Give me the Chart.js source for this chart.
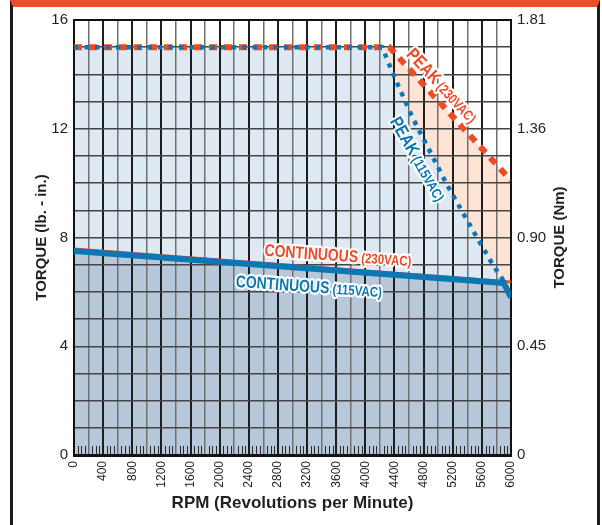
<!DOCTYPE html>
<html>
<head>
<meta charset="utf-8">
<script src="https://cdn.jsdelivr.net/npm/chart.js@4.4.1/dist/chart.umd.min.js"></script>
<style>
html, body { margin: 0; padding: 0; background: #fff; }
#wrap { position: relative; width: 602px; height: 525px; overflow: hidden; }
#frame { position: absolute; left: 10px; top: 0; width: 590px; height: 525px; box-sizing: border-box;
         border-top: 7px solid #ef4e2c; border-left: 3px solid #1b1b1b; border-right: 3px solid #1b1b1b; }
#torque-chart { position: absolute; left: 0; top: 0; }
</style>
</head>
<body>
<div id="wrap">
    <div id="frame"></div>
    <canvas id="torque-chart" width="602" height="525"></canvas>
</div>
<script>
const FONT = "'Liberation Sans', Arial, sans-serif";
const RED = '#ef4a25';
const BLUE = '#0c77b3';
const INK = '#231f20';

// tick labels
const rpmTickLabels = [0, 400, 800, 1200, 1600, 2000, 2400, 2800, 3200, 3600, 4000, 4400, 4800, 5200, 5600, 6000];
const torqueTickLabels = [0, 4, 8, 12, 16];
const nmTickLabels = ['0', '0.45', '0.90', '1.36', '1.81'];

// curves (rpm, lb-in)
const cont115Rpm = [0, 5900, 6000];
const cont115Torque = [7.5, 6.33, 5.8];

const cont230Rpm = [0, 6000];
const cont230Torque = [7.58, 6.36];

const peak115Rpm = [0, 4230, 4400, 4650, 4900, 5130, 5480, 5750, 5900, 6000];
const peak115Torque = [15, 15, 13.9, 12.4, 11.1, 9.9, 8.25, 7.0, 6.4, 5.8];

const peak230Rpm = [0, 4330, 6000];
const peak230Torque = [15, 15, 10.1];

function toPoints(xs, ys) {
    return xs.map((x, i) => ({ x: x, y: ys[i] }));
}

// condensed bold label with a white halo, centred on (cx, cy)
function drawTag(ctx, cx, cy, deg, big, small, color, bigPx, smallPx) {
    ctx.save();
    ctx.translate(cx, cy);
    ctx.rotate(deg * Math.PI / 180);
    ctx.scale(0.82, 1);
    const bigFont = `bold ${bigPx}px ${FONT}`;
    const smallFont = `bold ${smallPx}px ${FONT}`;
    ctx.font = bigFont;
    const w1 = ctx.measureText(big).width;
    ctx.font = smallFont;
    const w2 = ctx.measureText(small).width;
    const gap = 4;
    const x0 = -(w1 + gap + w2) / 2;
    const base = bigPx * 0.36;
    ctx.textBaseline = 'alphabetic';
    ctx.textAlign = 'left';
    ctx.lineJoin = 'round';
    ctx.strokeStyle = '#fff';
    ctx.lineWidth = 4.5;
    ctx.fillStyle = color;
    ctx.font = bigFont;
    ctx.strokeText(big, x0, base);
    ctx.font = smallFont;
    ctx.strokeText(small, x0 + w1 + gap, base);
    ctx.font = bigFont;
    ctx.fillText(big, x0, base);
    ctx.font = smallFont;
    ctx.fillText(small, x0 + w1 + gap, base);
    ctx.restore();
}

const extrasPlugin = {
    id: 'extras',
    afterDraw(chart) {
        const ctx = chart.ctx;
        const x = chart.scales.x;
        const y = chart.scales.y;
        const area = chart.chartArea;

        // small ticks along the bottom, every 50 rpm
        ctx.save();
        ctx.strokeStyle = '#2a2a2a';
        ctx.lineWidth = 1;
        ctx.beginPath();
        for (let r = 50; r < 6000; r += 50) {
            if (r % 200 === 0) continue;
            const px = Math.round(x.getPixelForValue(r)) + 0.5;
            ctx.moveTo(px, area.bottom);
            ctx.lineTo(px, area.bottom - 9);
        }
        ctx.stroke();
        ctx.restore();

        // curve labels
        drawTag(ctx, x.getPixelForValue(3625), y.getPixelForValue(7.36), 4, 'CONTINUOUS', '(230VAC)', RED, 17, 14);
        drawTag(ctx, x.getPixelForValue(3226), y.getPixelForValue(6.22), 4, 'CONTINUOUS', '(115VAC)', BLUE, 17, 14);
        drawTag(ctx, x.getPixelForValue(5060), y.getPixelForValue(13.6), 47, 'PEAK', '(230VAC)', RED, 18, 14);
        drawTag(ctx, x.getPixelForValue(4730), y.getPixelForValue(10.9), 60, 'PEAK', '(115VAC)', BLUE, 18, 14);

        // right axis title, reading upward
        ctx.save();
        ctx.translate(560, (area.top + area.bottom) / 2);
        ctx.rotate(-Math.PI / 2);
        ctx.font = `bold 15px ${FONT}`;
        ctx.fillStyle = INK;
        ctx.textAlign = 'center';
        ctx.textBaseline = 'middle';
        ctx.fillText('TORQUE (Nm)', 0, 0);
        ctx.restore();
    }
};

const canvas = document.getElementById('torque-chart');

const chart = new Chart(canvas, {
    type: 'line',
    data: {
        datasets: [
            {
                label: 'Peak (230VAC)',
                data: toPoints(peak230Rpm, peak230Torque),
                borderColor: RED,
                borderWidth: 6,
                borderDash: [8, 7],
                backgroundColor: '#fde4d4',
                fill: 1,
                pointRadius: 0,
                order: 4
            },
            {
                label: 'Peak (115VAC)',
                data: toPoints(peak115Rpm, peak115Torque),
                borderColor: BLUE,
                borderWidth: 4.5,
                borderDash: [4.5, 6],
                backgroundColor: '#dfe9f3',
                fill: 3,
                pointRadius: 0,
                order: 3
            },
            {
                label: 'Continuous (230VAC)',
                data: toPoints(cont230Rpm, cont230Torque),
                borderColor: RED,
                borderWidth: 3,
                fill: false,
                pointRadius: 0,
                order: 2
            },
            {
                label: 'Continuous (115VAC)',
                data: toPoints(cont115Rpm, cont115Torque),
                borderColor: BLUE,
                borderWidth: 6,
                backgroundColor: '#b6c8d9',
                fill: 'origin',
                pointRadius: 0,
                order: 1
            }
        ]
    },
    options: {
        responsive: false,
        animation: false,
        layout: { padding: { top: 20, left: 0, right: 0, bottom: 0 } },
        plugins: {
            legend: { display: false },
            tooltip: { enabled: false },
            filler: { drawTime: 'beforeDraw' }
        },
        scales: {
            x: {
                type: 'linear',
                min: 0,
                max: 6000,
                afterFit: (scale) => { scale.height = 70; },
                ticks: {
                    stepSize: 200,
                    autoSkip: false,
                    minRotation: 90,
                    maxRotation: 90,
                    padding: 6,
                    color: INK,
                    font: { family: FONT, size: 12 },
                    callback: (v) => rpmTickLabels.includes(v) ? String(v) : ''
                },
                grid: {
                    drawTicks: false,
                    color: (c) => (c.tick && c.tick.value % 400 === 0) ? '#1e1e1e' : '#707070',
                    lineWidth: (c) => (c.tick && c.tick.value % 400 === 0) ? 2 : 1.5
                },
                border: { color: '#111', width: 3 },
                title: {
                    display: true,
                    text: 'RPM (Revolutions per Minute)',
                    color: INK,
                    font: { family: FONT, size: 17, weight: 'bold' },
                    padding: { top: 0, bottom: 11 }
                }
            },
            y: {
                position: 'left',
                min: 0,
                max: 16,
                afterFit: (scale) => { scale.width = 74; },
                ticks: {
                    stepSize: 1,
                    padding: 6,
                    color: INK,
                    font: { family: FONT, size: 15 },
                    callback: (v) => torqueTickLabels.includes(v) ? String(v) : ''
                },
                grid: {
                    drawTicks: false,
                    color: (c) => (c.tick && c.tick.value === 16) ? '#111' : '#454545',
                    lineWidth: (c) => (c.tick && c.tick.value === 16) ? 2 : 1.5
                },
                border: { color: '#111', width: 2 },
                title: {
                    display: true,
                    text: 'TORQUE (lb. - in.)',
                    color: INK,
                    font: { family: FONT, size: 15, weight: 'bold' },
                    padding: { top: 33, bottom: 0 }
                }
            },
            y1: {
                position: 'right',
                min: 0,
                max: 16,
                afterFit: (scale) => { scale.width = 91; },
                ticks: {
                    stepSize: 4,
                    padding: 6,
                    color: INK,
                    font: { family: FONT, size: 15 },
                    callback: (v, i) => nmTickLabels[i]
                },
                grid: { display: false, drawTicks: false },
                border: { color: '#111', width: 2 }
            }
        }
    },
    plugins: [extrasPlugin]
});
</script>
</body>
</html>
